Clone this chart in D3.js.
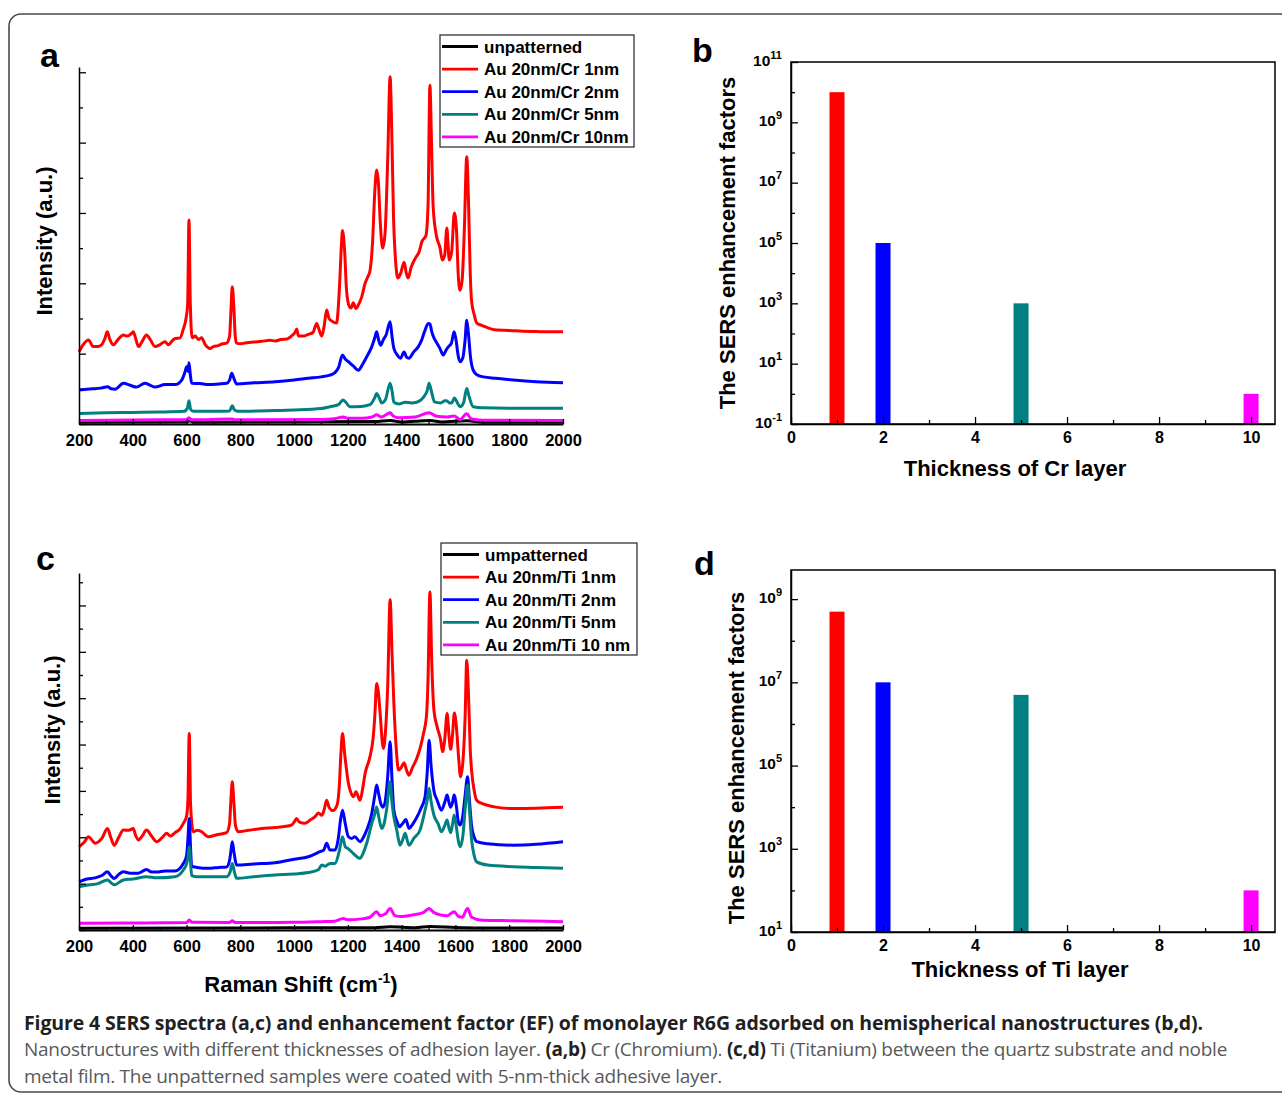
<!DOCTYPE html>
<html>
<head>
<meta charset="utf-8">
<script src="https://cdn.jsdelivr.net/npm/d3@7"></script>
<style>
  body { margin: 0; background: #fff; }
  svg { display: block; }
  text { font-family: "Liberation Sans", Arial, Helvetica, sans-serif; }
  text.cap { font-family: "Open Sans", "Noto Sans", sans-serif; }
</style>
</head>
<body>
<svg id="fig" width="1282" height="1097"></svg>
<script>
// ---- data ----
var shiftTicks = [200, 400, 600, 800, 1000, 1200, 1400, 1600, 1800, 2000];
var thickness = [1, 2, 5, 10];
var efCr = [1e10, 1e5, 1e3, 1];
var efTi = [5e8, 1e7, 5e6, 100];
var seriesColors = ["#000000", "#ff0000", "#0000ff", "#008080", "#ff00ff"];
var legendCr = ["unpatterned", "Au 20nm/Cr 1nm", "Au 20nm/Cr 2nm", "Au 20nm/Cr 5nm", "Au 20nm/Cr 10nm"];
var legendTi = ["umpatterned", "Au 20nm/Ti 1nm", "Au 20nm/Ti 2nm", "Au 20nm/Ti 5nm", "Au 20nm/Ti 10 nm"];

// spectra, [Raman shift (cm-1), intensity (a.u.)]
var crBlack = [[200,0.05],[600,0.06],[612,0.09],[625,0.05],[1000,0.06],[1300,0.07],[1357,0.1],[1400,0.06],[1505,0.1],[1550,0.06],[1645,0.09],[1700,0.05],[2000,0.05]];
var crRed = [[200,2.05],[215,2.25],[235,2.39],[253,2.2],[270,2.2],[284,2.25],[297,2.45],[305,2.62],[315,2.4],[328,2.25],[345,2.4],[365,2.53],[380,2.5],[396,2.58],[402,2.62],[410,2.45],[421,2.2],[435,2.35],[451,2.53],[465,2.4],[483,2.2],[500,2.25],[520,2.34],[532,2.25],[545,2.35],[557,2.43],[576,2.45],[588,2.7],[598,3.0],[604,3.4],[609,5.8],[614,3.4],[621,2.45],[632,2.5],[644,2.4],[656,2.45],[670,2.25],[687,2.15],[700,2.2],[718,2.23],[735,2.28],[749,2.3],[760,2.5],[765,3.2],[770,3.9],[776,3.3],[781,2.5],[786,2.3],[800,2.28],[817,2.3],[850,2.33],[880,2.35],[910,2.38],[929,2.36],[950,2.4],[975,2.42],[990,2.5],[1003,2.6],[1010,2.7],[1016,2.5],[1035,2.5],[1053,2.55],[1070,2.6],[1084,2.86],[1092,2.7],[1103,2.5],[1112,2.8],[1121,3.24],[1130,3.0],[1146,2.9],[1158,2.87],[1165,3.4],[1170,4.1],[1176,5.1],[1180,5.5],[1188,4.9],[1195,3.8],[1205,3.35],[1212,3.3],[1220,3.45],[1230,3.28],[1240,3.4],[1251,3.6],[1264,4.0],[1275,4.2],[1282,4.35],[1292,5.2],[1300,6.6],[1307,7.22],[1314,6.8],[1320,5.8],[1329,5.0],[1338,5.4],[1348,7.5],[1357,9.87],[1364,8.0],[1370,5.8],[1376,4.8],[1386,4.15],[1397,4.3],[1409,4.6],[1417,4.3],[1424,4.15],[1435,4.45],[1450,4.7],[1465,4.9],[1476,5.2],[1490,5.35],[1498,6.2],[1505,9.63],[1511,8.0],[1517,6.2],[1528,5.4],[1543,5.0],[1551,4.66],[1560,4.8],[1568,5.57],[1577,4.66],[1586,4.9],[1596,6.0],[1604,5.5],[1610,4.3],[1617,3.8],[1625,4.1],[1633,5.5],[1642,7.6],[1649,6.2],[1655,4.3],[1660,3.5],[1670,3.1],[1679,2.87],[1700,2.8],[1753,2.67],[1800,2.66],[1850,2.64],[1900,2.63],[1950,2.62],[2000,2.62]];
var crBlue = [[200,0.97],[250,1.0],[280,1.02],[307,1.06],[320,1.0],[334,0.99],[365,1.16],[390,1.1],[414,1.05],[445,1.16],[465,1.1],[483,1.05],[520,1.12],[557,1.12],[582,1.25],[595,1.5],[600,1.63],[605,1.5],[609,1.74],[614,1.4],[619,1.16],[650,1.15],[681,1.12],[720,1.14],[749,1.16],[760,1.25],[768,1.44],[776,1.3],[786,1.14],[850,1.17],[929,1.2],[1000,1.25],[1053,1.3],[1100,1.34],[1133,1.39],[1152,1.46],[1165,1.6],[1180,1.96],[1190,1.85],[1202,1.77],[1220,1.65],[1239,1.53],[1255,1.7],[1270,1.91],[1289,2.2],[1300,2.45],[1307,2.62],[1314,2.4],[1322,2.24],[1332,2.4],[1342,2.53],[1357,2.91],[1364,2.5],[1371,2.15],[1385,1.95],[1396,1.87],[1409,2.05],[1418,1.9],[1427,1.87],[1445,2.05],[1462,2.2],[1475,2.4],[1487,2.67],[1499,2.86],[1505,2.85],[1512,2.62],[1520,2.45],[1528,2.34],[1542,2.15],[1555,1.96],[1565,2.1],[1574,2.2],[1585,2.3],[1595,2.62],[1602,2.4],[1610,1.95],[1617,1.77],[1628,1.9],[1636,2.4],[1642,2.95],[1648,2.6],[1656,1.9],[1666,1.53],[1680,1.4],[1704,1.34],[1750,1.3],[1815,1.25],[1900,1.2],[2000,1.17]];
var crTeal = [[200,0.3],[300,0.32],[400,0.33],[500,0.34],[590,0.36],[603,0.45],[609,0.66],[615,0.42],[625,0.36],[700,0.36],[760,0.37],[770,0.52],[778,0.4],[790,0.36],[900,0.38],[1000,0.4],[1100,0.44],[1133,0.49],[1165,0.55],[1182,0.68],[1192,0.62],[1207,0.49],[1250,0.5],[1282,0.55],[1300,0.75],[1307,0.87],[1316,0.75],[1326,0.6],[1340,0.7],[1357,1.16],[1364,0.95],[1371,0.62],[1390,0.57],[1413,0.62],[1435,0.6],[1456,0.62],[1480,0.75],[1495,0.95],[1502,1.16],[1510,0.95],[1522,0.63],[1545,0.6],[1561,0.66],[1567,0.66],[1578,0.6],[1586,0.6],[1596,0.74],[1606,0.62],[1617,0.49],[1630,0.6],[1642,1.01],[1650,0.8],[1666,0.49],[1700,0.46],[1800,0.45],[2000,0.45]];
var crMagenta = [[200,0.1],[500,0.12],[600,0.12],[609,0.18],[618,0.12],[770,0.14],[780,0.12],[1100,0.13],[1150,0.15],[1182,0.2],[1200,0.16],[1250,0.16],[1290,0.2],[1307,0.26],[1325,0.2],[1357,0.32],[1370,0.22],[1390,0.18],[1450,0.2],[1502,0.32],[1530,0.22],[1570,0.2],[1595,0.23],[1617,0.13],[1642,0.29],[1660,0.14],[1700,0.11],[2000,0.1]];

var tiBlack = [[200,0.08],[800,0.09],[1300,0.1],[1357,0.14],[1450,0.1],[1505,0.15],[1600,0.11],[1700,0.09],[2000,0.09]];
var tiRed = [[200,3.59],[220,3.8],[235,4.02],[250,3.85],[260,3.74],[285,3.95],[306,4.38],[318,4.0],[331,3.66],[348,4.0],[365,4.31],[385,4.3],[402,4.38],[410,4.1],[421,3.88],[435,4.05],[451,4.31],[470,4.05],[489,3.81],[510,4.0],[526,4.17],[540,4.05],[557,4.2],[575,4.35],[588,4.6],[600,4.9],[605,5.6],[610,8.48],[615,5.4],[625,4.24],[640,4.3],[656,4.24],[670,4.1],[681,4.02],[710,4.1],[749,4.2],[760,4.6],[764,5.4],[770,6.39],[776,5.5],[782,4.5],[792,4.24],[830,4.3],[879,4.38],[930,4.42],[991,4.53],[1000,4.65],[1009,4.81],[1020,4.65],[1040,4.6],[1060,4.75],[1078,4.89],[1090,5.05],[1103,4.95],[1112,5.2],[1121,5.6],[1130,5.3],[1145,5.15],[1160,5.4],[1168,6.2],[1174,7.6],[1180,8.48],[1188,7.6],[1202,6.32],[1212,5.9],[1221,5.75],[1230,5.96],[1245,5.6],[1255,6.1],[1264,6.75],[1282,7.47],[1294,8.3],[1300,9.2],[1307,10.63],[1313,10.3],[1319,9.48],[1332,7.83],[1340,8.6],[1348,10.5],[1357,14.25],[1364,12.0],[1371,9.77],[1380,7.8],[1388,6.9],[1398,7.0],[1409,7.21],[1418,6.9],[1427,6.68],[1440,7.0],[1456,7.4],[1470,7.9],[1480,8.41],[1492,9.2],[1498,10.8],[1505,14.58],[1512,11.5],[1520,9.48],[1532,8.76],[1545,8.2],[1552,7.69],[1560,8.2],[1569,9.34],[1576,8.4],[1582,7.8],[1589,8.4],[1596,9.36],[1604,8.7],[1612,7.4],[1619,6.61],[1628,7.3],[1636,9.2],[1642,11.64],[1649,10.0],[1655,7.8],[1660,6.9],[1670,6.0],[1679,5.6],[1700,5.45],[1716,5.39],[1750,5.3],[1815,5.24],[1900,5.25],[2000,5.29]];
var tiBlue = [[200,2.08],[230,2.2],[260,2.25],[285,2.35],[306,2.51],[318,2.35],[331,2.22],[348,2.4],[365,2.51],[390,2.45],[421,2.45],[451,2.61],[470,2.5],[489,2.5],[520,2.55],[557,2.55],[588,2.87],[600,3.2],[605,3.9],[610,4.81],[615,3.5],[619,2.75],[640,2.7],[681,2.66],[720,2.7],[749,2.72],[760,3.0],[765,3.4],[770,3.81],[777,3.3],[786,2.8],[850,2.85],[929,2.9],[1000,3.05],[1053,3.16],[1096,3.38],[1110,3.45],[1121,3.74],[1133,3.45],[1152,3.45],[1165,4.0],[1172,4.7],[1180,5.17],[1190,4.6],[1202,4.02],[1214,3.95],[1226,4.02],[1245,3.81],[1258,4.0],[1270,4.31],[1289,5.03],[1300,5.8],[1307,6.25],[1314,5.9],[1322,5.46],[1330,5.3],[1338,5.5],[1348,6.6],[1357,8.12],[1364,6.5],[1371,5.17],[1382,4.7],[1392,4.45],[1404,4.6],[1416,4.77],[1427,4.38],[1440,4.55],[1456,4.85],[1470,5.2],[1487,5.75],[1495,6.8],[1502,8.19],[1510,7.0],[1520,6.0],[1532,5.6],[1548,5.17],[1560,5.5],[1569,5.82],[1576,5.5],[1582,5.3],[1589,5.5],[1595,5.82],[1604,5.3],[1610,4.7],[1617,4.53],[1627,4.9],[1636,5.8],[1645,6.61],[1652,5.6],[1660,4.5],[1670,4.0],[1679,3.81],[1720,3.72],[1815,3.66],[1900,3.7],[2000,3.81]];
var tiTeal = [[200,1.87],[240,1.95],[270,2.0],[306,2.16],[318,2.05],[331,1.95],[365,2.16],[400,2.2],[451,2.3],[489,2.25],[557,2.3],[588,2.59],[600,2.85],[605,3.1],[610,3.59],[615,2.9],[619,2.35],[640,2.3],[681,2.3],[749,2.3],[762,2.5],[770,2.87],[778,2.5],[786,2.23],[850,2.3],[929,2.37],[1000,2.42],[1053,2.48],[1090,2.6],[1103,2.8],[1115,2.75],[1133,2.87],[1152,2.87],[1168,3.4],[1180,4.02],[1190,3.6],[1202,3.5],[1220,3.3],[1245,3.09],[1258,3.35],[1270,3.74],[1289,4.6],[1300,5.0],[1307,5.31],[1316,4.8],[1326,4.38],[1335,4.6],[1344,5.2],[1357,6.39],[1364,5.5],[1371,4.88],[1382,4.3],[1394,3.66],[1404,3.9],[1413,4.17],[1420,3.9],[1427,3.66],[1445,3.95],[1468,4.3],[1487,5.17],[1495,5.6],[1502,6.11],[1510,5.5],[1520,4.95],[1535,4.6],[1548,4.24],[1560,4.5],[1569,4.74],[1576,4.4],[1582,4.2],[1589,4.55],[1595,4.96],[1604,4.4],[1610,3.9],[1617,3.59],[1627,4.0],[1636,5.2],[1645,6.25],[1652,5.2],[1660,3.9],[1670,3.2],[1679,2.94],[1720,2.8],[1815,2.73],[1900,2.7],[2000,2.66]];
var tiMagenta = [[200,0.29],[400,0.3],[600,0.32],[610,0.43],[620,0.33],[760,0.32],[770,0.4],[780,0.32],[1000,0.33],[1100,0.36],[1150,0.38],[1182,0.5],[1200,0.44],[1250,0.48],[1282,0.55],[1307,0.79],[1320,0.62],[1340,0.7],[1357,0.93],[1375,0.62],[1400,0.58],[1440,0.65],[1480,0.75],[1502,0.93],[1520,0.75],[1545,0.65],[1570,0.62],[1595,0.79],[1610,0.6],[1625,0.55],[1645,0.93],[1660,0.55],[1700,0.42],[1815,0.4],[2000,0.36]];

var svg = d3.select("#fig");

// outer rounded frame
svg.append("rect")
  .attr("x", 9).attr("y", 14)
  .attr("width", 1300).attr("height", 1078)
  .attr("rx", 12)
  .attr("fill", "none")
  .attr("stroke", "#4a4a4a")
  .attr("stroke-width", 1.6);

function styleAxis(sel, w) {
  sel.selectAll(".domain").attr("stroke", "#000").attr("stroke-width", w || 1.5);
  sel.selectAll(".tick line").attr("stroke", "#000").attr("stroke-width", 1.3);
}

// ---- spectra panels (a, c) ----
function spectraPanel(cfg) {
  var x = d3.scaleLinear().domain([200, 2000]).range([79, 563]);
  var y = d3.scaleLinear().domain([0, cfg.yMax]).range([cfg.bottom, cfg.top]);
  var g = svg.append("g");

  var line = d3.line()
    .x(function(d) { return x(d[0]); })
    .y(function(d) { return y(d[1]); })
    .curve(d3.curveMonotoneX);

  g.selectAll("path.spec")
    .data(cfg.series)
    .enter()
    .append("path")
      .attr("class", "spec")
      .attr("d", line)
      .attr("fill", "none")
      .attr("stroke", function(d, i) { return seriesColors[i]; })
      .attr("stroke-width", 3)
      .attr("stroke-linejoin", "round");

  // y axis, no labels, inward ticks
  var yMinor = g.append("g")
    .attr("transform", "translate(79,0)")
    .call(d3.axisLeft(y).tickValues(d3.range(1, cfg.yMax, 2)).tickSize(-4).tickFormat(""));
  yMinor.select(".domain").remove();
  styleAxis(yMinor);
  var yMajor = g.append("g")
    .attr("transform", "translate(79,0)")
    .call(d3.axisLeft(y).tickValues(d3.range(0, cfg.yMax, 2)).tickSizeInner(-7).tickSizeOuter(0).tickFormat(""));
  styleAxis(yMajor);

  // x axis
  var xMinor = g.append("g")
    .attr("transform", "translate(0," + cfg.bottom + ")")
    .call(d3.axisBottom(x).tickValues(d3.range(300, 2000, 200)).tickSize(-3).tickFormat(""));
  xMinor.select(".domain").remove();
  styleAxis(xMinor);
  var xAxis = g.append("g")
    .attr("transform", "translate(0," + cfg.bottom + ")")
    .call(d3.axisBottom(x).tickValues(shiftTicks).tickFormat(d3.format("d"))
      .tickSizeInner(-5).tickSizeOuter(0).tickPadding(10));
  styleAxis(xAxis, 2);
  xAxis.selectAll("text")
    .attr("fill", "#000")
    .style("font-size", "16.5px")
    .style("font-weight", "bold");

  // y label
  g.append("text")
    .attr("transform", "translate(" + cfg.yLabelX + "," + cfg.yLabelY + ")rotate(-90)")
    .attr("text-anchor", "middle")
    .style("font-size", "22px")
    .style("font-weight", "bold")
    .text("Intensity (a.u.)");

  // panel letter
  g.append("text")
    .attr("x", cfg.letterX).attr("y", cfg.letterY)
    .style("font-size", "34px")
    .style("font-weight", "bold")
    .text(cfg.letter);

  // legend
  var lg = g.append("g");
  lg.append("rect")
    .attr("x", cfg.legend.x).attr("y", cfg.legend.y)
    .attr("width", cfg.legend.w).attr("height", cfg.legend.h)
    .attr("fill", "#fff")
    .attr("stroke", "#333")
    .attr("stroke-width", 1.3);
  var rows = lg.selectAll("g.row")
    .data(cfg.names)
    .enter()
    .append("g")
      .attr("transform", function(d, i) { return "translate(" + cfg.legend.x + "," + (cfg.legend.y + 11.5 + i * 22.6) + ")"; });
  rows.append("line")
    .attr("x1", 2).attr("x2", 38)
    .attr("stroke", function(d, i) { return seriesColors[i]; })
    .attr("stroke-width", 2.8);
  rows.append("text")
    .attr("x", 44).attr("y", 6)
    .style("font-size", "17px")
    .style("font-weight", "bold")
    .text(function(d) { return d; });

  return g;
}

spectraPanel({
  top: 67, bottom: 424, yMax: 10.15,
  series: [crBlack, crRed, crBlue, crTeal, crMagenta],
  names: legendCr,
  letter: "a", letterX: 40, letterY: 67,
  yLabelX: 52, yLabelY: 241,
  legend: {x: 440, y: 35, w: 194, h: 112}
});

spectraPanel({
  top: 573, bottom: 930, yMax: 15.4,
  series: [tiBlack, tiRed, tiBlue, tiTeal, tiMagenta],
  names: legendTi,
  letter: "c", letterX: 36, letterY: 570,
  yLabelX: 60, yLabelY: 730,
  legend: {x: 441, y: 543, w: 196, h: 112}
});

// x title for the spectra
var rs = svg.append("text")
  .attr("x", 301).attr("y", 992)
  .attr("text-anchor", "middle")
  .style("font-size", "22px")
  .style("font-weight", "bold");
rs.append("tspan").text("Raman Shift (cm");
rs.append("tspan").attr("dy", -9).style("font-size", "14px").text("-1");
rs.append("tspan").attr("dy", 9).text(")");

// ---- enhancement factor panels (b, d) ----
function barPanel(cfg) {
  var x = d3.scaleLinear().domain([0, 10.52]).range([791, 1275]);
  var y = d3.scaleLog().domain(cfg.yDomain).range([cfg.bottom, cfg.top]);
  var g = svg.append("g");

  g.selectAll("rect.bar")
    .data(cfg.values)
    .enter()
    .append("rect")
      .attr("class", "bar")
      .attr("x", function(d, i) { return x(thickness[i]) - 7.5; })
      .attr("width", 15)
      .attr("y", function(d) { return y(d); })
      .attr("height", function(d) { return cfg.bottom - y(d); })
      .attr("fill", function(d, i) { return seriesColors[i + 1]; });

  // frame
  g.append("rect")
    .attr("x", 791).attr("y", cfg.top)
    .attr("width", 484).attr("height", cfg.bottom - cfg.top)
    .attr("fill", "none")
    .attr("stroke", "#000")
    .attr("stroke-width", 1.5);

  // x axis
  var xMinor = g.append("g")
    .attr("transform", "translate(0," + cfg.bottom + ")")
    .call(d3.axisBottom(x).tickValues([1, 3, 5, 7, 9]).tickSize(-4).tickFormat(""));
  xMinor.select(".domain").remove();
  styleAxis(xMinor);
  var xAxis = g.append("g")
    .attr("transform", "translate(0," + cfg.bottom + ")")
    .call(d3.axisBottom(x).tickValues([0, 2, 4, 6, 8, 10]).tickSizeInner(-7).tickSizeOuter(0).tickPadding(8));
  styleAxis(xAxis);
  xAxis.selectAll("text")
    .attr("fill", "#000")
    .style("font-size", "16px")
    .style("font-weight", "bold");

  // y axis (log)
  var yMinor = g.append("g")
    .attr("transform", "translate(791,0)")
    .call(d3.axisLeft(y).tickValues(cfg.minorTicks).tickSize(-4).tickFormat(""));
  yMinor.select(".domain").remove();
  styleAxis(yMinor);
  var yAxis = g.append("g")
    .attr("transform", "translate(791,0)")
    .call(d3.axisLeft(y).tickValues(cfg.majorTicks).tickSizeInner(-7).tickSizeOuter(0).tickFormat(""));
  styleAxis(yAxis);
  var lab = yAxis.selectAll(".tick")
    .append("text")
      .attr("x", -9).attr("y", 3)
      .attr("text-anchor", "end")
      .attr("fill", "#000")
      .style("font-size", "15.5px")
      .style("font-weight", "bold");
  lab.append("tspan").text("10");
  lab.append("tspan")
    .attr("dy", -7)
    .style("font-size", "11px")
    .text(function(d) { return Math.round(Math.log10(d)); });

  // titles
  g.append("text")
    .attr("transform", "translate(" + cfg.yLabelX + "," + cfg.yLabelY + ")rotate(-90)")
    .attr("text-anchor", "middle")
    .style("font-size", "22px")
    .style("font-weight", "bold")
    .text("The SERS enhancement factors");
  g.append("text")
    .attr("x", cfg.xLabelX).attr("y", cfg.xLabelY)
    .attr("text-anchor", "middle")
    .style("font-size", "22px")
    .style("font-weight", "bold")
    .text(cfg.xLabel);
  g.append("text")
    .attr("x", cfg.letterX).attr("y", cfg.letterY)
    .style("font-size", "34px")
    .style("font-weight", "bold")
    .text(cfg.letter);
}

barPanel({
  top: 62, bottom: 424,
  yDomain: [1e-1, 1e11],
  majorTicks: [1e-1, 1e1, 1e3, 1e5, 1e7, 1e9, 1e11],
  minorTicks: [1e0, 1e2, 1e4, 1e6, 1e8, 1e10],
  values: efCr,
  xLabel: "Thickness of Cr layer", xLabelX: 1015, xLabelY: 476,
  yLabelX: 735, yLabelY: 243,
  letter: "b", letterX: 692, letterY: 62
});

barPanel({
  top: 570, bottom: 932,
  yDomain: [1e1, Math.pow(10, 9.7)],
  majorTicks: [1e1, 1e3, 1e5, 1e7, 1e9],
  minorTicks: [1e2, 1e4, 1e6, 1e8],
  values: efTi,
  xLabel: "Thickness of Ti layer", xLabelX: 1020, xLabelY: 977,
  yLabelX: 744, yLabelY: 758,
  letter: "d", letterX: 694, letterY: 575
});

// ---- caption ----
// squeeze each line to the reference width with letter-spacing
function fitLine(t, width) {
  var n = t.text().length;
  var w = t.node().getComputedTextLength();
  t.style("letter-spacing", ((width - w) / n).toFixed(3) + "px");
}

var l1 = svg.append("text")
  .attr("class", "cap")
  .attr("x", 24).attr("y", 1030)
  .attr("fill", "#231f20")
  .style("font-size", "19.5px")
  .style("font-weight", "bold")
  .text("Figure 4 SERS spectra (a,c) and enhancement factor (EF) of monolayer R6G adsorbed on hemispherical nanostructures (b,d).");
fitLine(l1, 1179);

var l2 = svg.append("text")
  .attr("class", "cap")
  .attr("x", 24).attr("y", 1056)
  .attr("fill", "#58595b")
  .style("font-size", "19px");
l2.append("tspan").text("Nanostructures with different thicknesses of adhesion layer. ");
l2.append("tspan").attr("fill", "#231f20").style("font-weight", "bold").text("(a,b)");
l2.append("tspan").text(" Cr (Chromium). ");
l2.append("tspan").attr("fill", "#231f20").style("font-weight", "bold").text("(c,d)");
l2.append("tspan").text(" Ti (Titanium) between the quartz substrate and noble");
fitLine(l2, 1203);

var l3 = svg.append("text")
  .attr("class", "cap")
  .attr("x", 24).attr("y", 1083)
  .attr("fill", "#58595b")
  .style("font-size", "19px")
  .text("metal film. The unpatterned samples were coated with 5-nm-thick adhesive layer.");
fitLine(l3, 698);
</script>
</body>
</html>
